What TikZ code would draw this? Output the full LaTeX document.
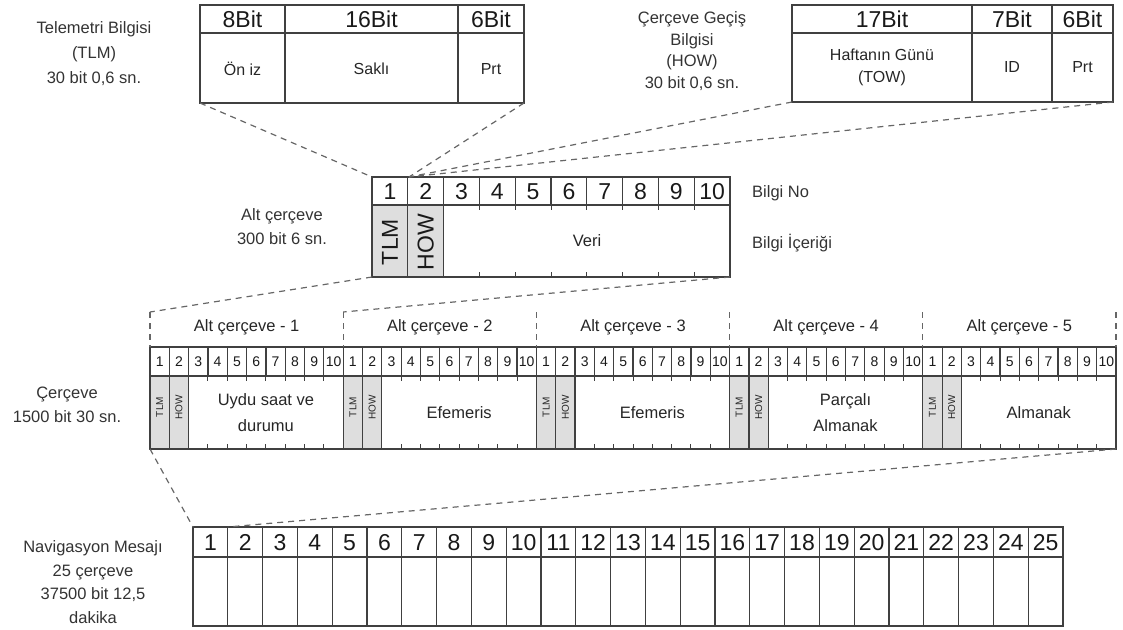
\documentclass[tikz,border=0pt]{standalone}
\usepackage{fontspec}
\setmainfont{Liberation Sans}
\begin{document}
\begin{tikzpicture}[x=1pt,y=-1pt,
  ln/.style={draw=black!75,line width=1.2pt},
  tk/.style={draw=black!75,line width=1pt},
  conn/.style={draw=black!60,line width=1.2pt,dash pattern=on 6pt off 5pt},
  grayc/.style={fill=black!13},
  lbl/.style={font=\fontsize{16.5}{23.5}\selectfont,text=black!80,align=center,inner sep=0pt},
  hdr/.style={font=\fontsize{23}{24}\selectfont,text=black!90,inner sep=0pt},
  cell/.style={font=\fontsize{16}{22}\selectfont,text=black!85,align=center,inner sep=0pt},
  bignum/.style={font=\fontsize{23}{24}\selectfont,text=black!90,inner sep=0pt},
  navnum/.style={font=\fontsize{23}{24}\selectfont,text=black!90,inner sep=0pt},
  smnum/.style={font=\fontsize{14}{15}\selectfont,text=black!90,inner sep=0pt},
  rot/.style={font=\fontsize{23}{24}\selectfont,text=black!90,inner sep=0pt,rotate=90},
  srot/.style={font=\fontsize{10}{11}\selectfont,text=black!85,inner sep=0pt,rotate=90},
  cont/.style={font=\fontsize{16.5}{26}\selectfont,text=black!85,align=center,inner sep=0pt}]
\useasboundingbox (0,0) rectangle (1123,629);

% ---------- TLM word ----------
\draw[ln] (200,5) rectangle (524,103);
\draw[ln] (200,33) -- (524,33) (285,5) -- (285,103) (458,5) -- (458,103);
\node[hdr] (t8) at (242.5,19.5) {8Bit};
\node[hdr] (t16) at (371.5,19.5) {16Bit};
\node[hdr] (t6) at (491,19.5) {6Bit};
\node[cell] (tpre) at (242.5,69) {Ön iz};
\node[cell] (tres) at (371.5,69) {Saklı};
\node[cell] (tprt) at (491,69) {Prt};
\coordinate (tlmBL) at (200,103);
\coordinate (tlmBR) at (524,103);
\node[lbl,font=\fontsize{16.5}{25}\selectfont] (tlmlbl) at (94,54) {Telemetri Bilgisi\\(TLM)\\30 bit 0,6 sn.};

% ---------- HOW word ----------
\draw[ln] (792,5) rectangle (1113,102);
\draw[ln] (792,33) -- (1113,33) (972,5) -- (972,102) (1052,5) -- (1052,102);
\node[hdr] (h17) at (882,19.5) {17Bit};
\node[hdr] (h7) at (1012,19.5) {7Bit};
\node[hdr] (h6) at (1082.5,19.5) {6Bit};
\node[cell] (htow) at (882,67) {Haftanın Günü\\(TOW)};
\node[cell] (hid) at (1012,67) {ID};
\node[cell] (hprt) at (1082.5,67) {Prt};
\coordinate (howBL) at (792,102);
\coordinate (howBR) at (1113,102);
\node[lbl,font=\fontsize{16.5}{21.5}\selectfont] (howlbl) at (692,51) {Çerçeve Geçiş\\Bilgisi\\(HOW)\\30 bit 0,6 sn.};

% ---------- Subframe ----------
\fill[grayc] (372,205) rectangle (443.6,277);
\draw[ln] (372,177) rectangle (730,277);
\draw[ln] (372,205) -- (730,205);
\draw[ln] (407.8,177) -- (407.8,277) (443.6,177) -- (443.6,277);
\foreach \j in {3,...,9} {
  \pgfmathsetmacro{\xx}{372+\j*35.8}
  \draw[ln] (\xx,177) -- (\xx,205);
  \draw[tk] (\xx,205) -- (\xx,210) (\xx,272) -- (\xx,277);
}
\foreach \j in {1,...,10} {
  \pgfmathsetmacro{\xx}{372+(\j-0.5)*35.8}
  \node[bignum] (sfn\j) at (\xx,191.5) {\j};
}
\node[rot] (sftlm) at (389.9,242) {TLM};
\node[rot] (sfhow) at (425.7,242) {HOW};
\node[cont] (sfveri) at (587,241) {Veri};
\coordinate (sfTL) at (372,177);
\coordinate (sfC2) at (409,177);
\coordinate (sfBL) at (372,277);
\coordinate (sfBR) at (730,277);
\node[lbl] (sflbl) at (282,226.5) {Alt çerçeve\\300 bit 6 sn.};
\node[lbl,anchor=west] (bno) at (752,193) {Bilgi No};
\node[lbl,anchor=west] (bic) at (752,243) {Bilgi İçeriği};

% ---------- Frame ----------
\foreach \k in {0,...,4} {
  \pgfmathsetmacro{\sx}{150+\k*193.2}
  \fill[grayc] (\sx,376) rectangle ({\sx+38.64},449);
}
\draw[ln] (150,347) rectangle (1116,449);
\draw[ln] (150,376) -- (1116,376);
\foreach \k/\txt in {0/{Uydu saat ve\\durumu},1/{Efemeris},2/{Efemeris},3/{Parçalı\\Almanak},4/{Almanak}} {
  \pgfmathsetmacro{\sx}{150+\k*193.2}
  \draw[ln] (\sx,347) -- (\sx,449);
  \draw[ln] ({\sx+19.32},347) -- ({\sx+19.32},449) ({\sx+38.64},347) -- ({\sx+38.64},449);
  \foreach \j in {3,...,9} {
    \pgfmathsetmacro{\xx}{\sx+\j*19.32}
    \draw[ln] (\xx,347) -- (\xx,376);
    \draw[tk] (\xx,376) -- (\xx,381) (\xx,444) -- (\xx,449);
  }
  \foreach \j in {1,...,10} {
    \pgfmathsetmacro{\xx}{\sx+(\j-0.5)*19.32}
    \node[smnum] (frn\k-\j) at (\xx,362) {\j};
  }
  \node[srot] (frtlm\k) at ({\sx+9.66},407) {TLM};
  \node[srot] (frhow\k) at ({\sx+28.98},407) {HOW};
  \node[cont] (frc\k) at ({\sx+115.92},412.5) {\txt};
  \pgfmathtruncatemacro{\kk}{\k+1}
  \node[cont] (frs\k) at ({\sx+96.6},327) {Alt çerçeve - \kk};
  \coordinate (frS\k) at (\sx,312);
}
\foreach \k in {0,...,5} {
  \pgfmathsetmacro{\sx}{150+\k*193.2}
  \draw[conn] (\sx,312) -- (\sx,347);
}
\coordinate (frBL) at (150,449);
\coordinate (frBR) at (1116,449);
\node[lbl] (frlbl) at (67,405) {Çerçeve\\1500 bit 30 sn.};

% ---------- Navigation message ----------
\draw[ln] (193,527) rectangle (1063,626);
\draw[ln] (193,557) -- (1063,557);
\foreach \j in {1,...,24} {
  \pgfmathsetmacro{\xx}{193+\j*34.8}
  \draw[ln] (\xx,527) -- (\xx,626);
}
\foreach \j in {1,...,25} {
  \pgfmathsetmacro{\xx}{193+(\j-0.5)*34.8}
  \node[navnum] (nvn\j) at (\xx,542.5) {\j};
}
\coordinate (nvTL) at (193,527);
\coordinate (nvC2) at (227.8,527);
\node[lbl,font=\fontsize{16.5}{23.5}\selectfont] (nvlbl) at (93,582) {Navigasyon Mesajı\\25 çerçeve\\37500 bit 12,5\\dakika};

% ---------- Connectors ----------
\draw[conn] (tlmBL) -- (sfTL);
\draw[conn] (tlmBR) -- (sfC2);
\draw[conn] (howBL) -- (sfC2);
\draw[conn] (howBR) -- (sfC2);
\draw[conn] (sfBL) -- (frS0);
\draw[conn] (sfBR) -- (frS1);
\draw[conn] (frBL) -- (nvTL);
\draw[conn] (frBR) -- (nvC2);
\end{tikzpicture}
\end{document}
